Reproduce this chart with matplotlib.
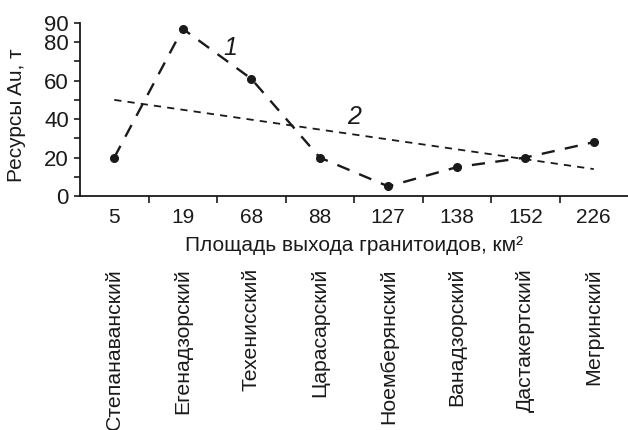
import numpy as np
import matplotlib
matplotlib.use("Agg")
import matplotlib.pyplot as plt
import matplotlib.transforms as mtransforms

# data
areas = ["5", "19", "68", "88", "127", "138", "152", "226"]
names = ["Степанаванский", "Егенадзорский", "Техенисский", "Царасарский",
         "Ноемберянский", "Ванадзорский", "Дастакертский", "Мегринский"]
resources = [20, 87, 61, 20, 5, 15, 20, 28]
ytick_vals = [0, 10, 20, 30, 40, 50, 60, 70, 80, 90]
ytick_labels = ["0", "", "20", "", "40", "", "60", "", "80", "90"]

ink = "#1a1a1a"
plt.rcParams["font.family"] = ["Liberation Sans", "DejaVu Sans"]
plt.rcParams["font.size"] = 15

fig = plt.figure(figsize=(6.28, 4.30), dpi=100)
ax = fig.add_axes([80 / 628, 1 - 196 / 430, 1 - 80 / 628, 173 / 430])

x = np.arange(len(areas))

# curve 1 - resources
ax.plot(x, resources, color=ink, lw=1.7, dashes=(5.6, 4.4),
        marker="o", ms=5.5, clip_on=False, zorder=3)

# curve 2 - linear trend of the same values
k, b = np.polyfit(x, resources, 1)
ax.plot(x, k * x + b, color=ink, lw=1.3, dashes=(4.0, 3.4), zorder=2)

ax.text(1.7, 77, "1", style="italic", fontsize=18, color=ink, ha="center", va="center")
ax.text(3.5, 41, "2", style="italic", fontsize=18, color=ink, ha="center", va="center")

ax.set_xlim(-0.5, len(areas) - 0.5)
ax.set_ylim(0, 90)
ax.spines["top"].set_visible(False)
ax.spines["right"].set_visible(False)
for s in ("left", "bottom"):
    ax.spines[s].set_color(ink)
    ax.spines[s].set_linewidth(1.3)

ax.set_yticks(ytick_vals)
ax.set_yticklabels(ytick_labels, fontsize=16)
ax.tick_params(axis="y", direction="out", length=4, width=1.2, pad=4, colors=ink)

ax.set_xticks(x)
ax.set_xticklabels(areas)
ax.set_xticks(x[:-1] + 0.5, minor=True)
ax.tick_params(axis="x", which="major", length=0, pad=9, colors=ink)
ax.tick_params(axis="x", which="minor", direction="out", length=5, width=1.2, color=ink)

ax.set_xlabel("Площадь выхода гранитоидов, км²", color=ink, labelpad=6)
ax.set_ylabel("Ресурсы Au, т", color=ink)
ax.yaxis.set_label_coords(-0.099, 0.47)

# deposit names under the axis
tr = mtransforms.blended_transform_factory(ax.transData, fig.transFigure)
for i, nm in enumerate(names):
    ax.text(i, 1 - 268 / 430, nm, rotation=90, ha="center", va="top",
            transform=tr, color=ink, fontsize=15.3, clip_on=False)

fig.savefig("out.png", dpi=100)
